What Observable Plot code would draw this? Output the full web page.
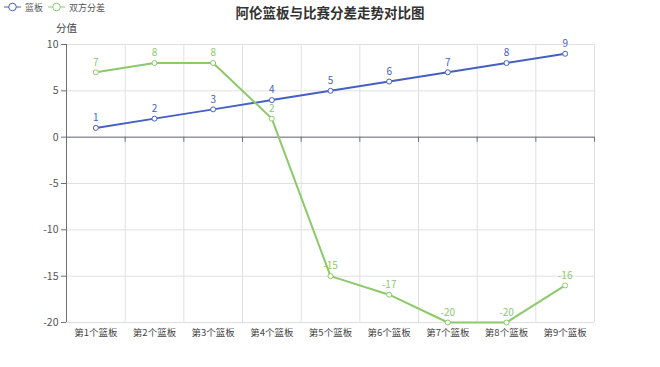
<!DOCTYPE html>
<html>
<head>
<meta charset="utf-8">
<script src="https://cdn.jsdelivr.net/npm/d3@7"></script>
<script src="https://cdn.jsdelivr.net/npm/@observablehq/plot@0.6"></script>
<style>
  html, body { margin: 0; padding: 0; background: #fff; }
  #wrap { position: relative; width: 660px; height: 367px; font-family: "Noto Sans CJK SC", "Noto Sans", sans-serif; }
  #title { position: absolute; left: 0; width: 660px; top: 2px; text-align: center; font-size: 13.5px; font-weight: bold; color: #333; }
  #legend { position: absolute; left: 4px; top: 0px; font-size: 9px; color: #555; display: flex; align-items: center; height: 14px; }
  .li { display: flex; align-items: center; margin-right: 5px; }
  .li svg { margin-right: 4px; }
</style>
</head>
<body>
<div id="wrap">
  <div id="chart"></div>
  <div id="title"></div>
  <div id="legend"></div>
</div>
<script>
const title = "阿伦篮板与比赛分差走势对比图";
const yLabel = "分值";
const categories = ["第1个篮板","第2个篮板","第3个篮板","第4个篮板","第5个篮板","第6个篮板","第7个篮板","第8个篮板","第9个篮板"];
const seriesNames = ["篮板", "双方分差"];
const rebounds = [1, 2, 3, 4, 5, 6, 7, 8, 9];
const scoreDiff = [7, 8, 8, 2, -15, -17, -20, -20, -16];
const yTicks = [-20, -15, -10, -5, 0, 5, 10];
const colors = ["#4560c2", "#8cc96a"];

const data = [];
[rebounds, scoreDiff].forEach((vals, s) => {
  vals.forEach((v, i) => data.push({series: seriesNames[s], i, v}));
});
const bounds = d3.range(categories.length + 1).map(k => k - 0.5);
const idx = d3.range(categories.length);

document.getElementById("title").textContent = title;
const legend = document.getElementById("legend");
seriesNames.forEach((n, s) => {
  const d = document.createElement("div");
  d.className = "li";
  d.innerHTML = `<svg width="17" height="14"><line x1="0" x2="17" y1="7" y2="7" stroke="${colors[s]}" stroke-width="1"/><circle cx="8.5" cy="7" r="3.8" fill="#fff" stroke="${colors[s]}" stroke-width="1"/></svg><span>${n}</span>`;
  legend.appendChild(d);
});

const axisColor = "#6e7079";
const gridColor = "#e0e0e0";
const font = '"Noto Sans CJK SC", "Noto Sans", sans-serif';
// tick lengths expressed in data units (about 5px)
const xTickLen = 0.085;
const yTickLen = 0.55;

const chart = Plot.plot({
  width: 660,
  height: 367,
  marginLeft: 66,
  marginRight: 66,
  marginTop: 44,
  marginBottom: 45,
  style: {fontFamily: font, background: "#fff", overflow: "visible"},
  x: {type: "linear", domain: [-0.5, categories.length - 0.5], axis: null},
  y: {domain: [-20, 10], axis: null},
  color: {domain: seriesNames, range: colors},
  marks: [
    Plot.ruleY(yTicks, {stroke: gridColor, strokeWidth: 1}),
    Plot.ruleX(bounds, {y1: -20, y2: 10, stroke: gridColor, strokeWidth: 1}),
    // y axis line + ticks
    Plot.ruleX([-0.5], {y1: -20, y2: 10, stroke: axisColor, strokeWidth: 1}),
    Plot.ruleY(yTicks, {x1: -0.5 - xTickLen, x2: -0.5, stroke: axisColor, strokeWidth: 1}),
    Plot.text(yTicks, {x: -0.5, y: d => d, text: d => String(d), dx: -8, textAnchor: "end", fill: "#555", fontSize: 10.5}),
    Plot.text([yLabel], {x: -0.5, y: 10, text: d => d, dy: -16, fill: "#444", fontSize: 10.5}),
    // x axis line at zero + ticks
    Plot.ruleY([0], {stroke: axisColor, strokeWidth: 1}),
    Plot.ruleX(bounds, {y1: 0, y2: -yTickLen, stroke: axisColor, strokeWidth: 1}),
    Plot.text(idx, {x: d => d, y: -20, text: d => categories[d], dy: 10, fill: "#444", fontSize: 9.5}),
    // series
    Plot.line(data, {x: "i", y: "v", z: "series", stroke: "series", strokeWidth: 2}),
    Plot.dot(data, {x: "i", y: "v", r: 2.5, fill: "#fff", stroke: "series", strokeWidth: 1}),
    Plot.text(data, {x: "i", y: "v", text: d => String(d.v), dy: -10, fill: "series", fontSize: 10})
  ]
});
document.getElementById("chart").appendChild(chart);
</script>
</body>
</html>
